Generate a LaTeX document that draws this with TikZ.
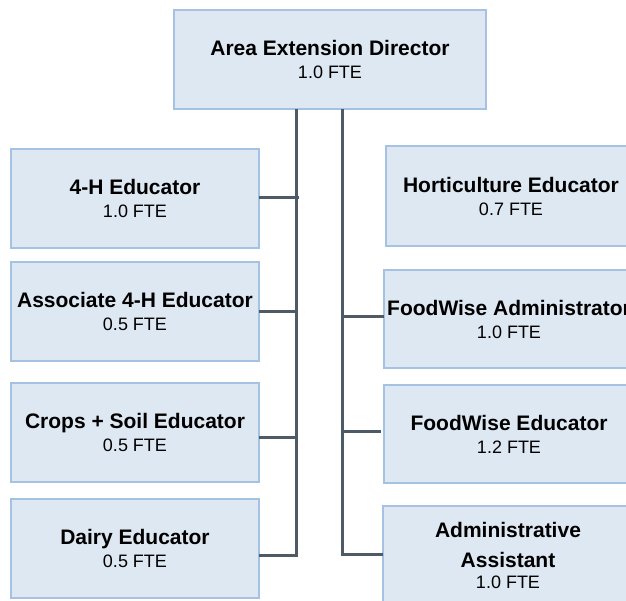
\documentclass[tikz,border=0pt]{standalone}
\usepackage{fontspec}
\setmainfont{Liberation Sans}
\definecolor{boxfill}{RGB}{222,232,243}
\definecolor{boxline}{RGB}{165,194,226}
\definecolor{connline}{RGB}{78,91,102}
\newcommand{\ttl}{\bfseries\fontsize{21}{23}\selectfont}
\tikzset{
  orgbox/.style={draw=boxline, fill=boxfill, line width=1.5pt, inner sep=0pt, outer sep=0pt,
    align=center, font=\fontsize{18}{23}\selectfont},
  conn/.style={draw=connline, line width=3pt}
}
\begin{document}
\begin{tikzpicture}[x=1pt,y=-1pt]
\useasboundingbox (0,0) rectangle (626,600);
\clip (0,0) rectangle (626,600);
\fill[white] (0,0) rectangle (626,600);
% top
\node[orgbox, minimum width=312pt, minimum height=99pt] (top) at (330,59.5) {{\ttl Area Extension Director}\\1.0 FTE};
% left column
\node[orgbox, minimum width=248pt, minimum height=99pt] (L1) at (135,198.5) {{\ttl 4-H Educator}\\1.0 FTE};
\node[orgbox, minimum width=248pt, minimum height=99pt] (L2) at (135,311.5) {{\ttl Associate 4-H Educator}\\0.5 FTE};
\node[orgbox, minimum width=248pt, minimum height=99pt] (L3) at (135,432.5) {{\ttl Crops + Soil Educator}\\0.5 FTE};
\node[orgbox, minimum width=248pt, minimum height=99pt] (L4) at (135,548.5) {{\ttl Dairy Educator}\\0.5 FTE};
% right column
\node[orgbox, minimum width=250pt, minimum height=100pt] (R1) at (511,196) {{\ttl Horticulture Educator}\\0.7 FTE};
\node[orgbox, minimum width=250pt, minimum height=98pt] (R2) at (509,319) {{\ttl FoodWise Administrator}\\1.0 FTE};
\node[orgbox, minimum width=250pt, minimum height=98pt] (R3) at (509,434) {{\ttl FoodWise Educator}\\1.2 FTE};
\node[orgbox, minimum width=250pt, minimum height=99pt] (R4) at (508,555.5) {{\ttl Administrative}\\[7pt]{\ttl Assistant}\\[-2pt]1.0 FTE};
% trunk coordinates
\coordinate (lx) at (296,0);
\coordinate (rx) at (342,0);
% left trunk
\draw[conn] (top.south -| lx) |- ([yshift=-6.5pt]L4.east);
\draw[conn] ([yshift=1.5pt]L1.east) -- ++(40,0);
\draw[conn] (L2.east) -- (L2.east -| lx);
\draw[conn] ([yshift=-4.5pt]L3.east) -- ++(39,0);
% right trunk
\draw[conn] (top.south -| rx) |- ([yshift=1.5pt]R4.west);
\draw[conn] ([yshift=3pt]R2.west) -- ([yshift=3pt]R2.west -| rx);
\draw[conn] ([xshift=-3pt,yshift=3pt]R3.west) -- ([yshift=3pt]R3.west -| rx);
\end{tikzpicture}
\end{document}
